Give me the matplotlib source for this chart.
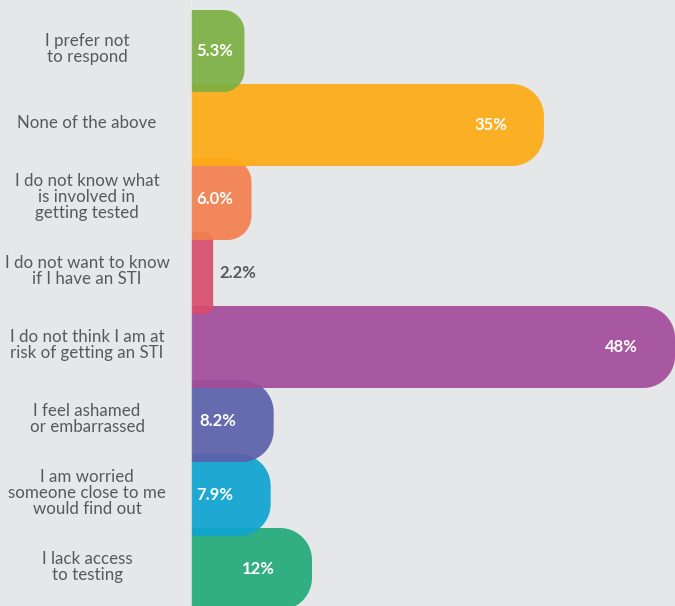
import numpy as np
import matplotlib.pyplot as plt
from matplotlib.patches import Polygon

plt.rcParams['font.family'] = ['Lato', 'DejaVu Sans']

# Data
labels = [
    "I prefer not\nto respond",
    "None of the above",
    "I do not know what\nis involved in\ngetting tested",
    "I do not want to know\nif I have an STI",
    "I do not think I am at\nrisk of getting an STI",
    "I feel ashamed\nor embarrassed",
    "I am worried\nsomeone close to me\nwould find out",
    "I lack access\nto testing",
]
values = [5.3, 35, 6.0, 2.2, 48, 8.2, 7.9, 12]
value_text = ["5.3%", "35%", "6.0%", "2.2%", "48%", "8.2%", "7.9%", "12%"]
colors = ["#7cb043", "#fdab13", "#f27f4f", "#d84d6c", "#a34c9a",
          "#5b61aa", "#0ea4d0", "#23a97a"]

BG = "#e6e7e9"
W, H = 675, 606
fig = plt.figure(figsize=(W / 100, H / 100), dpi=100, facecolor=BG)
x0_px = 191
ax = fig.add_axes([x0_px / W, 0, 1 - x0_px / W, 1])
ax.set_facecolor(BG)

xmax = 48
px_per_x = (W - x0_px) / xmax
pitch_px = 74
bar_h = 82 / pitch_px
top_off = 51 / pitch_px
ax.set_xlim(0, xmax)
ax.set_ylim((H - 51) / pitch_px, -top_off)


def rounded_bar(y, width, color, z):
    r_px = min(32, width * px_per_x * 0.4)
    rx = r_px / px_per_x
    ry = r_px / pitch_px
    top, bot = y - bar_h / 2, y + bar_h / 2
    t = np.linspace(0, np.pi / 2, 20)
    pts = [(0, top), (width - rx, top)]
    # top-right corner
    for a in t:
        pts.append((width - rx + rx * np.sin(a), top + ry - ry * np.cos(a)))
    # bottom-right corner
    for a in t:
        pts.append((width - rx + rx * np.cos(a), bot - ry + ry * np.sin(a)))
    pts.append((0, bot))
    ax.add_patch(Polygon(pts, closed=True, facecolor=color, edgecolor='none',
                         alpha=0.92, zorder=z))


for i, (lab, v, vt, c) in enumerate(zip(labels, values, value_text, colors)):
    rounded_bar(i, v, c, 20 - i)
    fig.text(87 / W, 1 - (49 + i * pitch_px) / H, lab, ha='center', va='center',
             fontsize=12.2, color='#58595b', linespacing=1.0)
    end_px = v * px_per_x
    if end_px < 40:
        ax.text(v + 6 / px_per_x, i, vt, ha='left', va='center', fontsize=12,
                fontweight='bold', color='#58595b', zorder=30)
    else:
        right = end_px - 37
        if right < 44:
            ax.text(5 / px_per_x, i, vt, ha='left', va='center', fontsize=12,
                    fontweight='bold', color='white', zorder=30)
        else:
            ax.text(right / px_per_x, i, vt, ha='right', va='center', fontsize=12,
                    fontweight='bold', color='white', zorder=30)

ax.axvline(0, color='#f2f2f2', lw=0.8, alpha=0.7, zorder=25)
ax.axis('off')

fig.savefig('out.png', dpi=100, facecolor=BG)
